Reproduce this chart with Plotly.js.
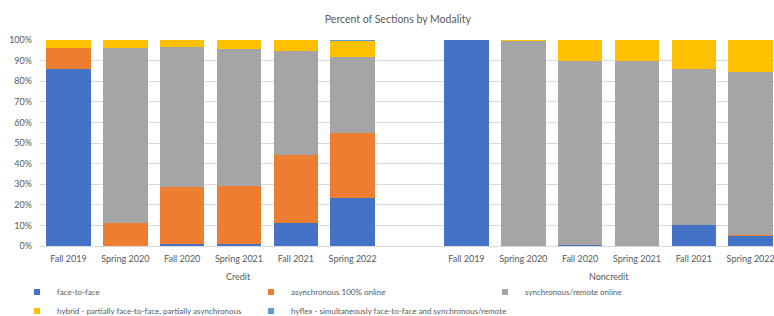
<!DOCTYPE html>
<html>
<head>
<meta charset="utf-8">
<script src="https://cdn.plot.ly/plotly-3.0.1.min.js"></script>
<style>html,body{margin:0;padding:0;overflow:hidden;background:#fff}</style>
</head>
<body>
<div id="chart" style="width:774px;height:316px"></div>
<script>
const terms = ["Fall 2019", "Spring 2020", "Fall 2020", "Spring 2021", "Fall 2021", "Spring 2022"];
const groups = ["Credit", "Noncredit"];
const seriesNames = [
  "face-to-face",
  "asynchronous 100% online",
  "synchronous/remote online",
  "hybrid - partially face-to-face, partially asynchronous",
  "hyflex - simultaneously face-to-face and synchronous/remote"
];
const seriesColors = ["#4472C4", "#ED7D31", "#A5A5A5", "#FFC000", "#5B9BD5"];

// Credit (percent)
const creditFace   = [86, 0, 1.1, 1.1, 11.0, 23.3];
const creditAsync  = [10, 11, 27.7, 28.2, 33.1, 31.5];
const creditSync   = [0, 85, 67.8, 66.3, 50.4, 36.9];
const creditHybrid = [4, 4, 3.4, 4.4, 5.3, 7.9];
const creditHyflex = [0, 0, 0, 0, 0.2, 0.4];

// Noncredit (percent)
const noncreditFace   = [100, 0, 0.3, 0, 10.2, 4.9];
const noncreditAsync  = [0, 0, 0, 0, 0, 0.5];
const noncreditSync   = [0, 99.5, 89.3, 89.6, 75.7, 79.3];
const noncreditHybrid = [0, 0.5, 10.4, 10.4, 14.1, 15.3];
const noncreditHyflex = [0, 0, 0, 0, 0, 0];

const creditSeries = [creditFace, creditAsync, creditSync, creditHybrid, creditHyflex];
const noncreditSeries = [noncreditFace, noncreditAsync, noncreditSync, noncreditHybrid, noncreditHyflex];

const n = terms.length;
const xCredit = terms.map((t, i) => i);
const xNoncredit = terms.map((t, i) => i + n + 1);
const xAll = xCredit.concat(xNoncredit);
const tickText = terms.concat(terms);

const FONT = "Lato, 'Open Sans', sans-serif";
const TXT = "#595959";

const traces = [];
seriesNames.forEach((name, k) => {
  traces.push({
    type: "bar",
    name: name,
    x: xAll,
    y: creditSeries[k].concat(noncreditSeries[k]),
    width: 0.785,
    marker: {color: seriesColors[k], line: {width: 0}},
    showlegend: false,
    hoverinfo: "y+name"
  });
});
// legend entries with small square markers
seriesNames.forEach((name, k) => {
  traces.push({
    type: "scatter",
    mode: "markers",
    name: name,
    x: [null],
    y: [null],
    marker: {symbol: "square", size: 6, color: seriesColors[k]},
    showlegend: true,
    hoverinfo: "skip"
  });
});

const layout = {
  width: 774,
  height: 316,
  margin: {l: 40, r: 0, t: 40, b: 70},
  paper_bgcolor: "#ffffff",
  plot_bgcolor: "#ffffff",
  barmode: "stack",
  bargap: 0,
  font: {family: FONT, size: 9, color: TXT},
  title: {
    text: "Percent of Sections by Modality",
    x: 0.514, xanchor: "center",
    y: 0.94, yanchor: "middle",
    font: {family: FONT, size: 10.5, color: TXT}
  },
  xaxis: {
    range: [-0.5, 2 * n + 0.41],
    tickmode: "array",
    tickvals: xAll,
    ticktext: tickText,
    ticks: "",
    showgrid: false,
    zeroline: false,
    showline: true,
    linecolor: "#D9D9D9",
    linewidth: 1,
    ticklabelstandoff: 4,
    ticklabeloverflow: "allow",
    tickfont: {family: FONT, size: 9, color: TXT},
    automargin: false,
    fixedrange: true
  },
  yaxis: {
    range: [0, 100],
    dtick: 10,
    ticksuffix: "%",
    ticks: "",
    showgrid: true,
    gridcolor: "#D9D9D9",
    gridwidth: 1,
    zeroline: false,
    showline: false,
    ticklabelstandoff: 7,
    tickfont: {family: FONT, size: 9, color: TXT},
    automargin: false,
    fixedrange: true
  },
  legend: {
    orientation: "h",
    traceorder: "normal",
    xref: "container", yref: "container",
    x: 0.022, xanchor: "left",
    y: 0.122, yanchor: "top",
    entrywidth: 189,
    entrywidthmode: "pixels",
    tracegroupgap: 0,
    itemwidth: 30,
    font: {family: FONT, size: 8, color: TXT},
    bgcolor: "rgba(0,0,0,0)"
  },
  annotations: [
    {
      text: groups[0], xref: "x", yref: "paper",
      x: (xCredit[0] + xNoncredit[0] - 1) / 2, y: -0.146,
      showarrow: false, xanchor: "center", yanchor: "middle",
      font: {family: FONT, size: 9, color: TXT}
    },
    {
      text: groups[1], xref: "x", yref: "paper",
      x: (xNoncredit[0] + xNoncredit[n - 1]) / 2, y: -0.146,
      showarrow: false, xanchor: "center", yanchor: "middle",
      font: {family: FONT, size: 9, color: TXT}
    }
  ]
};

Plotly.newPlot("chart", traces, layout, {displayModeBar: false, staticPlot: true});
</script>
</body>
</html>
